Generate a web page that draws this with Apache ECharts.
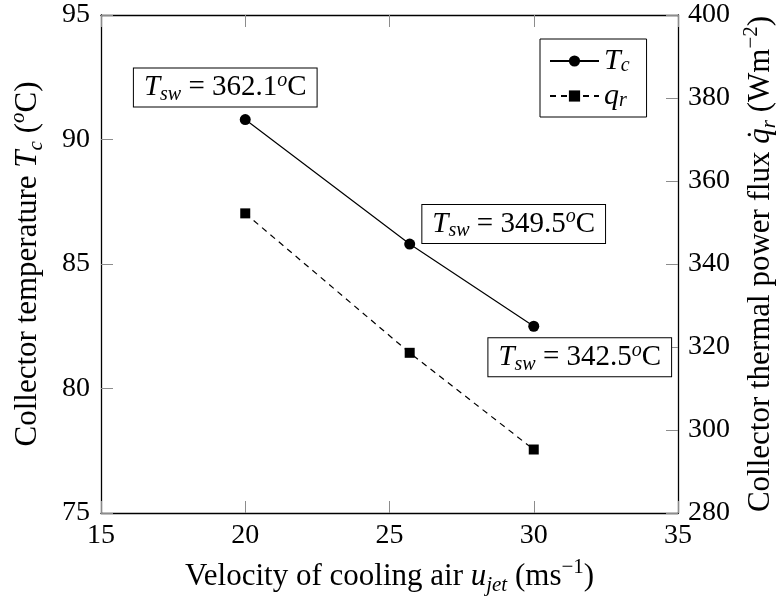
<!DOCTYPE html>
<html>
<head>
<meta charset="utf-8">
<script src="https://cdn.jsdelivr.net/npm/echarts@6/dist/echarts.min.js"></script>
<style>
  html, body { margin: 0; padding: 0; background: #fff; }
  #chart { width: 783px; height: 600px; }
</style>
</head>
<body>
<div id="chart"></div>
<script>
// Cooling-air velocity (m/s) and the measured responses
const velocity = [20, 25.7, 30];
const collectorTemp = [90.8, 85.8, 82.5];      // T_c, degC (left axis)
const thermalFlux = [352.2, 318.6, 295.3];     // q_r, W/m^2 (right axis)
const surfaceTemp = ['362.1', '349.5', '342.5']; // T_sw annotations, degC

const xTicks = { min: 15, max: 35, interval: 5 };
const leftTicks = { min: 75, max: 95, interval: 5 };
const rightTicks = { min: 280, max: 400, interval: 20 };

const FONT = 'Liberation Serif';

// rich-text styles for math-like labels
function richStyles(size, small, lh) {
  return {
    n: { fontFamily: FONT, fontSize: size, color: '#000', lineHeight: lh },
    i: { fontFamily: FONT, fontSize: size, fontStyle: 'italic', color: '#000', lineHeight: lh },
    sub: { fontFamily: FONT, fontSize: small, fontStyle: 'italic', color: '#000', lineHeight: small, verticalAlign: 'bottom' },
    sup: { fontFamily: FONT, fontSize: small, color: '#000', lineHeight: small, verticalAlign: 'top' },
    supi: { fontFamily: FONT, fontSize: small, fontStyle: 'italic', color: '#000', lineHeight: small, verticalAlign: 'top' }
  };
}

const titleRich = richStyles(31, 21, 39);
const boxRich = richStyles(29, 20, 34);
const legendRich = richStyles(30, 20, 30);

const tickLine = { show: true, inside: true, length: 12, lineStyle: { color: '#8c8c8c', width: 1 } };
const axisLine = { show: true, onZero: false, lineStyle: { color: '#000', width: 1.3 } };
const axisLabel = { color: '#000', fontFamily: FONT, fontSize: 28 };

// per-point placement of the T_sw boxes around the T_c markers
const labelOffsets = [[-20, -32], [104, -20], [46, 31]];

const chart = echarts.init(document.getElementById('chart'), null, { renderer: 'canvas' });

chart.setOption({
  backgroundColor: '#fff',
  animation: false,
  grid: { left: 101, right: 105, top: 15, bottom: 87, outerBoundsMode: 'none', containLabel: false },
  legend: {
    left: 540, top: 39,
    orient: 'vertical',
    backgroundColor: '#fff',
    borderColor: '#000', borderWidth: 1,
    padding: [7, 17, 6, 9],
    itemWidth: 49, itemHeight: 14, itemGap: 5,
    data: ['Tc', 'qr'],
    formatter: function (name) {
      return name === 'Tc' ? '{i|T}{sub|c}' : '{i|q}{sub|r}';
    },
    textStyle: { rich: legendRich }
  },
  xAxis: [{
    type: 'value',
    position: 'bottom',
    min: xTicks.min, max: xTicks.max, interval: xTicks.interval,
    axisLine: axisLine,
    axisTick: tickLine,
    axisLabel: Object.assign({ margin: 9 }, axisLabel),
    splitLine: { show: false },
    name: '{n|Velocity of cooling air }{i|u}{sub|jet}{n| (ms}{sup|−1}{n|)}',
    nameLocation: 'middle',
    nameGap: 44,
    nameTextStyle: { rich: titleRich }
  }, {
    type: 'value',
    position: 'top',
    min: xTicks.min, max: xTicks.max, interval: xTicks.interval,
    axisLine: axisLine,
    axisTick: tickLine,
    axisLabel: { show: false },
    splitLine: { show: false }
  }],
  yAxis: [{
    type: 'value',
    position: 'left',
    min: leftTicks.min, max: leftTicks.max, interval: leftTicks.interval,
    axisLine: axisLine,
    axisTick: tickLine,
    axisLabel: Object.assign({ margin: 11 }, axisLabel),
    splitLine: { show: false },
    name: '{n|Collector temperature }{i|T}{sub|c}{n| (}{supi|o}{n|C)}',
    nameLocation: 'middle',
    nameRotate: 90,
    nameGap: 54,
    nameTextStyle: { rich: titleRich }
  }, {
    type: 'value',
    position: 'right',
    min: rightTicks.min, max: rightTicks.max, interval: rightTicks.interval,
    axisLine: axisLine,
    axisTick: tickLine,
    axisLabel: Object.assign({ margin: 10 }, axisLabel),
    splitLine: { show: false },
    name: '{n|Collector thermal power flux }{i|q\u0307}{sub|r}{n| (Wm}{sup|−2}{n|)}',
    nameLocation: 'middle',
    nameRotate: 90,
    nameGap: 60,
    nameTextStyle: { rich: titleRich }
  }],
  series: [{
    name: 'Tc',
    type: 'line',
    xAxisIndex: 0, yAxisIndex: 0,
    data: velocity.map((v, k) => [v, collectorTemp[k]]),
    symbol: 'circle', symbolSize: 11,
    itemStyle: { color: '#000' },
    lineStyle: { color: '#000', width: 1.2, type: 'solid' },
    label: {
      show: true,
      position: 'inside',
      formatter: function (p) {
        return '{i|T}{sub|sw}{n| = ' + surfaceTemp[p.dataIndex] + '}{supi|o}{n|C}';
      },
      backgroundColor: '#fff',
      borderColor: '#000', borderWidth: 1,
      padding: [2, 10, 2, 10],
      rich: boxRich
    },
    labelLayout: function (params) {
      const o = labelOffsets[params.dataIndex];
      const r = params.rect;
      return { x: r.x + r.width / 2 + o[0], y: r.y + r.height / 2 + o[1], align: 'center', verticalAlign: 'middle' };
    },
    z: 3
  }, {
    name: 'qr',
    type: 'line',
    xAxisIndex: 0, yAxisIndex: 1,
    data: velocity.map((v, k) => [v, thermalFlux[k]]),
    symbol: 'rect', symbolSize: 10,
    itemStyle: { color: '#000' },
    lineStyle: { color: '#000', width: 1.2, type: [6, 5] },
    z: 2
  }]
});
</script>
</body>
</html>
